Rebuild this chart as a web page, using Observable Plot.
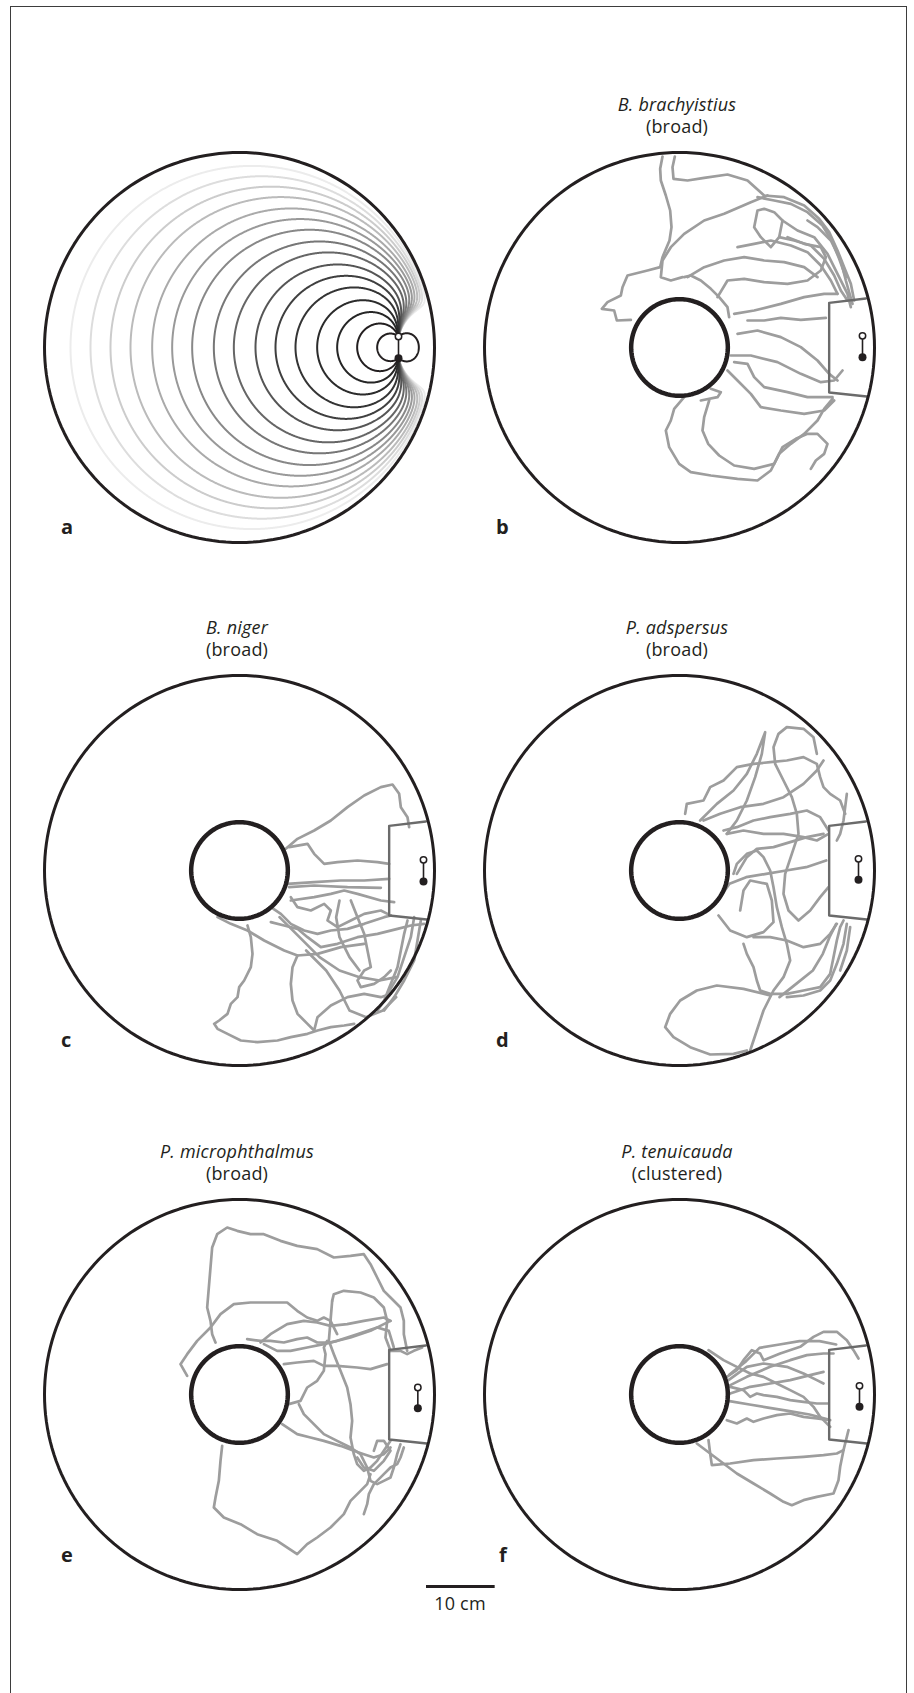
<!DOCTYPE html>
<html><head><meta charset="utf-8">
<script src="https://cdn.jsdelivr.net/npm/d3@7"></script>
<script src="https://cdn.jsdelivr.net/npm/@observablehq/plot@0.6"></script>
<style>
body{margin:0;background:#fff;}
#page{position:relative;width:914px;height:1693px;overflow:hidden;font-family:"Open Sans",sans-serif;color:#231f20;background:#fff;}
#frame{position:absolute;left:10px;top:6px;width:895px;height:1760px;border:1.6px solid #3d3d3d;}
.panel{position:absolute;}
.panel svg{overflow:visible;}
.t{position:absolute;width:300px;text-align:center;font-size:18px;line-height:18px;letter-spacing:0.2px;white-space:nowrap;}
.lt{position:absolute;font-weight:700;font-size:20px;line-height:20px;}
</style></head><body><div id="page"><div id="frame"></div></div>
<script>
// ---- geometry of the arena (units: 1 unit ≈ 0.49 mm, tank centre = 0,0, y downward)
const TANK_R = 585;
const OBJECT_R = 145;
const UNITS_PER_CM = 20.6;
const shelter = [[559,-147],[449,-134],[449,135],[562,147]];
// electrodes [open pole, filled pole] per panel
const electrodesB = [[549,-35],[549,29]];
const electrodesC = [[552,-32],[552,33]];
const electrodesD = [[537,-35],[537,28]];
const electrodesE = [[535,-21],[535,41]];
const electrodesF = [[540,-26],[540,37]];
// panel a : dipole and field lines (axis crossings)
const dipoleA = [[477,-33],[477,32]];
const fieldCrossingsLeft = [413,353,293,233,168,108,48,-17,-77,-142,-202,-262,-327,-387,-447,-507];
const fieldGrays = ["#231f20","#231f20","#262626","#2b2b2b","#343434","#3f3f3f","#555555","#666666","#777777","#888888","#999999","#aaaaaa","#bbbbbb","#cccccc","#dddddd","#ececec"];
const fieldCrossingsRight = [538];

// ---- titles
const species = ["B. brachyistius","B. niger","P. adspersus","P. microphthalmus","P. tenuicauda"];
const patterns = ["(broad)","(broad)","(broad)","(broad)","(clustered)"];
const letters = ["a","b","c","d","e","f"];

// ---- tracks (polylines)
const tracksB = [
 [[-51,-573],[-58,-536],[-56,-501],[-41,-456],[-28,-411],[-24,-361],[-30,-321],[-51,-271],[-58,-241],[-96,-231],[-156,-216],[-171,-181],[-176,-156],[-216,-136],[-233,-116],[-196,-111],[-188,-81],[-146,-83]],
 [[-14,-573],[-21,-541],[-18,-506],[24,-501],[74,-509],[144,-519],[204,-501],[254,-456],[314,-451],[374,-426],[419,-386],[449,-346],[474,-291],[494,-241],[514,-191],[524,-141]],
 [[264,-456],[214,-436],[134,-401],[74,-381],[14,-341],[-26,-301],[-51,-261],[-56,-211],[-26,-201],[9,-211]],
 [[14,-211],[34,-216],[64,-201],[94,-176],[119,-151],[144,-121],[149,-91]],
 [[254,-416],[284,-406],[309,-381],[299,-331],[274,-301],[244,-331],[224,-361],[234,-411],[254,-416]],
 [[309,-381],[354,-351],[404,-331],[444,-281],[474,-221],[504,-161],[514,-121]],
 [[384,-381],[414,-361],[454,-321],[484,-261],[499,-201],[519,-131]],
 [[234,-451],[284,-441],[334,-431],[384,-406],[429,-366],[459,-316],[479,-266],[499,-211]],
 [[299,-331],[344,-321],[394,-306],[434,-266],[464,-216],[484,-171],[504,-141]],
 [[174,-301],[224,-311],[274,-321],[334,-306],[384,-286],[424,-246],[454,-201],[474,-161]],
 [[24,-211],[74,-241],[134,-261],[194,-271],[254,-261],[314,-256],[374,-241],[414,-211]],
 [[114,-151],[144,-201],[194,-206],[254,-196],[324,-191],[384,-201],[424,-231],[439,-271],[424,-301],[374,-311],[324,-331]],
 [[164,-101],[224,-111],[304,-131],[374,-151],[434,-161],[474,-161]],
 [[204,-81],[254,-81],[304,-89],[364,-83],[439,-89]],
 [[174,-41],[234,-51],[304,-31],[364,-1],[414,39],[449,79],[474,99]],
 [[154,24],[214,24],[294,44],[364,79],[424,104],[464,99],[489,69]],
 [[164,44],[204,49],[224,89],[254,119],[324,134],[384,149],[459,149]],
 [[14,149],[-16,184],[-26,219],[-41,249],[-31,299],[-1,349],[34,374],[94,384],[174,394],[234,399],[274,369],[299,319],[334,289],[374,259],[414,219],[434,184],[459,154]],
 [[89,159],[74,209],[69,249],[86,289],[119,324],[164,354],[224,364],[284,349],[309,299],[349,274],[384,259],[414,259],[444,289],[434,319],[409,339],[394,364]],
 [[64,159],[114,149],[124,134],[94,124]],
 [[144,69],[174,99],[214,139],[244,179],[304,189],[374,199],[434,189],[464,159]]
];
const tracksC = [
 [[139,-65],[174,-95],[224,-120],[274,-150],[324,-190],[374,-225],[424,-250],[459,-258],[479,-230],[484,-190],[504,-160],[509,-130]],
 [[149,-70],[204,-80],[224,-50],[254,-20],[294,-25],[354,-30],[414,-25],[449,-20]],
 [[144,40],[224,35],[304,30],[374,30],[449,25]],
 [[149,50],[224,45],[324,50],[424,52]],
 [[154,90],[224,80],[274,70],[314,60],[354,70],[424,90],[464,95]],
 [[154,80],[174,110],[214,120],[254,100],[274,120],[264,150],[294,170],[334,150],[374,130],[424,120],[444,130]],
 [[94,110],[124,130],[154,160],[194,180],[234,190],[274,180],[324,175],[374,160],[434,140],[454,135]],
 [[94,155],[134,165],[174,175],[204,200],[244,230],[294,220],[354,200],[414,190],[474,175],[514,165],[554,160]],
 [[-66,140],[-26,160],[24,180],[74,210],[134,240],[174,255],[234,250],[304,230],[374,220]],
 [[24,165],[34,200],[39,250],[34,290],[14,330],[-1,350],[-6,380],[-26,400],[-36,430],[-61,450],[-76,460],[-66,475],[-36,490],[4,510],[54,515],[114,510],[154,500],[204,490],[234,480],[274,470],[314,465],[344,460]],
 [[174,255],[159,290],[154,340],[159,390],[174,430],[204,460],[224,480],[234,440],[274,405],[324,380],[374,370],[424,380],[454,370]],
 [[504,150],[494,190],[484,240],[474,290],[454,340],[434,390],[414,420]],
 [[524,140],[514,200],[494,260],[474,320],[444,370]],
 [[334,90],[354,140],[374,190],[384,240],[394,290],[374,300],[354,330],[364,350],[404,340],[434,320],[454,300]],
 [[544,150],[534,210],[524,270],[494,330],[464,380],[434,420]],
 [[120,140],[180,200],[240,260],[300,300],[360,320],[420,330],[470,320]],
 [[200,240],[260,300],[300,360],[330,420],[380,440],[430,420],[470,380]],
 [[300,90],[290,140],[300,200],[330,260],[360,300]]
];
const tracksD = [
 [[17,-170],[22,-200],[72,-210],[92,-250],[132,-270],[172,-310],[222,-320],[272,-325],[322,-330],[372,-340],[412,-320],[422,-280],[432,-250],[452,-230],[482,-210],[497,-170]],
 [[62,-150],[112,-200],[162,-240],[202,-290],[232,-350],[257,-415],[247,-350],[227,-280],[202,-210],[172,-150],[142,-110]],
 [[412,-350],[402,-400],[372,-425],[322,-430],[297,-410],[282,-370],[287,-320],[312,-270],[337,-220],[352,-170],[357,-110],[337,-50],[317,10],[312,70],[327,120],[357,150],[392,120],[422,80],[447,50]],
 [[132,-120],[172,-130],[222,-150],[272,-160],[332,-170],[382,-180],[422,-160],[447,-120]],
 [[142,-110],[192,-120],[252,-110],[312,-110],[372,-100],[412,-90],[447,-110]],
 [[172,10],[202,-40],[232,-65],[282,-70],[332,-85],[382,-100],[432,-110]],
 [[72,-150],[122,-170],[182,-190],[252,-200],[312,-220],[372,-260],[412,-300],[432,-330]],
 [[122,80],[150,40],[200,20],[260,10],[320,0],[380,-10],[440,-30]],
 [[117,135],[152,180],[202,200],[252,185],[282,155],[277,90],[262,40],[212,30],[192,60],[182,120]],
 [[162,10],[172,-20],[202,-50],[232,-60],[252,-40],[272,0],[282,50],[292,110],[307,170],[322,220],[332,270],[312,320],[282,360],[252,420],[232,480],[212,540]],
 [[192,220],[202,250],[222,290],[232,330],[242,360],[272,370],[322,370],[372,360],[422,350],[452,310],[462,260],[472,210],[482,170],[492,150]],
 [[222,200],[272,200],[322,210],[372,230],[422,220],[452,190],[472,160]],
 [[300,380],[350,340],[400,300],[430,250],[450,200],[470,160]],
 [[272,375],[192,355],[112,345],[52,360],[2,390],[-28,430],[-43,470],[-18,500],[32,530],[92,552],[162,550],[202,540]],
 [[502,160],[492,220],[472,280],[452,330],[422,360],[372,375],[322,380]],
 [[512,170],[502,240],[482,300]],
 [[502,-230],[497,-190],[492,-150],[482,-110],[472,-90]]
];
const tracksE = [
 [[-72,-156],[-82,-181],[-87,-221],[-97,-261],[-92,-321],[-87,-381],[-82,-441],[-67,-481],[-37,-501],[-7,-491],[33,-481],[73,-481],[123,-461],[173,-446],[233,-436],[283,-411],[333,-416],[373,-421],[393,-391],[413,-351],[433,-311],[453,-291],[483,-261],[493,-221],[493,-181],[503,-131]],
 [[-157,-56],[-177,-91],[-157,-121],[-127,-161],[-87,-201],[-57,-241],[-17,-271],[33,-276],[93,-276],[143,-276],[173,-251],[203,-231],[233,-221],[253,-231],[273,-221],[293,-181]],
 [[278,-281],[283,-301],[313,-311],[363,-306],[403,-291],[433,-261],[443,-221],[438,-171],[453,-131]],
 [[278,-281],[273,-221],[268,-161],[283,-121],[303,-71],[323,-21],[333,29],[338,79],[333,129],[343,179],[353,209],[373,229],[393,219],[413,199],[433,169],[453,139]],
 [[63,-156],[93,-181],[143,-211],[193,-221],[233,-216],[273,-206],[323,-211],[373,-221],[433,-231],[453,-221]],
 [[23,-166],[63,-161],[93,-161],[133,-156],[173,-166],[203,-171],[233,-156],[273,-156],[333,-171],[393,-191],[433,-211],[453,-221]],
 [[73,-151],[113,-131],[153,-131],[203,-141],[253,-151],[293,-161],[353,-181],[413,-201],[448,-191],[463,-141]],
 [[133,-91],[173,-96],[223,-101],[253,-86],[293,-86],[353,-81],[393,-76],[443,-91]],
 [[148,29],[183,19],[203,-21],[233,-41],[253,-71],[258,-121],[253,-141],[263,-161]],
 [[128,89],[173,119],[213,129],[253,139],[303,154],[343,169],[373,179],[403,189],[433,179],[453,159]],
 [[178,29],[193,59],[223,89],[253,119],[293,139],[333,159],[363,179],[383,219],[393,259],[413,269],[433,259],[453,249],[463,219],[473,179],[483,149]],
 [[-52,154],[-57,199],[-62,259],[-72,309],[-77,339],[-47,369],[3,389],[53,419],[113,439],[173,479],[203,449],[233,429],[273,399],[313,359],[333,319],[363,289],[383,269],[393,239]],
 [[373,359],[383,329],[388,299],[403,269],[433,239],[453,219],[473,209],[483,189],[493,159]],
 [[353,189],[373,219],[403,229],[433,199],[453,169],[433,139],[413,139],[403,169]],
 [[453,-131],[483,-131],[503,-121],[523,-131],[548,-141]]
];
const tracksF = [
 [[87,-133],[132,-103],[172,-83],[212,-63],[252,-53],[292,-33],[332,-13],[372,7],[402,37],[422,67],[432,77],[452,97]],
 [[142,-53],[172,-73],[192,-103],[217,-133],[242,-123],[252,-103],[302,-123],[362,-143],[402,-173],[432,-188],[472,-188],[502,-163],[522,-133],[537,-108]],
 [[142,-23],[202,-53],[272,-83],[332,-103],[382,-118],[432,-123],[462,-123]],
 [[147,-43],[202,-83],[252,-93],[322,-83],[372,-63],[412,-43],[432,-33]],
 [[150,-60],[200,-100],[240,-140],[300,-150],[360,-160],[420,-160],[470,-150]],
 [[152,-3],[212,-23],[272,-33],[332,-43],[392,-58],[432,-68]],
 [[152,-23],[192,-13],[212,7],[232,-3],[252,2],[292,7],[332,17],[372,22],[412,27],[447,27]],
 [[150,20],[210,30],[270,40],[330,50],[390,60],[447,75]],
 [[142,77],[172,87],[202,72],[222,82],[252,72],[292,62],[332,57],[372,67],[412,72],[452,77]],
 [[52,147],[92,177],[132,207],[172,237],[222,267],[272,297],[312,322],[337,332],[372,317],[412,307],[462,297],[477,257],[482,217],[492,167],[502,127],[507,107]],
 [[87,137],[92,177],[97,212],[152,207],[222,197],[292,192],[372,187],[432,182],[472,177],[492,167]]
];

// ---- layout (page pixels)
const COLS = [239, 679], ROWS = [347, 870, 1394];
const PW = 440, DOM = 660;

function circle(r) { return d3.range(0, 361, 2).map(a => [r*Math.cos(a*Math.PI/180), r*Math.sin(a*Math.PI/180)]); }
function toRows(tracks) { return tracks.flatMap((t, i) => t.map(([x, y]) => ({x, y, id: i}))); }

function baseMarks() {
  return [
    Plot.line(circle(OBJECT_R), {x: d => d[0], y: d => d[1], stroke: "#231f20", strokeWidth: 4.5}),
    Plot.line(circle(TANK_R), {x: d => d[0], y: d => d[1], stroke: "#231f20", strokeWidth: 3})
  ];
}
function electrodeMarks(el) {
  return [
    Plot.link([el], {x1: d => d[0][0], y1: d => d[0][1], x2: d => d[1][0], y2: d => d[1][1], stroke: "#231f20", strokeWidth: 1.6}),
    Plot.dot([el[0]], {x: d => d[0], y: d => d[1], r: 3.2, fill: "#fff", stroke: "#231f20", strokeWidth: 1.5}),
    Plot.dot([el[1]], {x: d => d[0], y: d => d[1], r: 4, fill: "#231f20"})
  ];
}
function makePlot(marks) {
  return Plot.plot({
    width: PW, height: PW, margin: 0,
    x: {domain: [-DOM, DOM], axis: null},
    y: {domain: [-DOM, DOM], range: [0, PW], axis: null},
    marks
  });
}

// ---- field lines for panel a (insulating circular wall: image charges)
const [src, snk] = dipoleA;
function img(p) { const k = TANK_R*TANK_R/(p[0]*p[0]+p[1]*p[1]); return [p[0]*k, p[1]*k]; }
const charges = [[...src, 1], [...img(src), 1], [...snk, -1], [...img(snk), -1]];
function fieldAt(x, y) {
  let ex = 0, ey = 0;
  for (const [cx, cy, q] of charges) { const dx = x-cx, dy = y-cy, r2 = dx*dx+dy*dy; ex += q*dx/r2; ey += q*dy/r2; }
  return [ex, ey];
}
function trace(x0, y0, dir, target) {
  const pts = []; let x = x0, y = y0; const h = 1.5;
  for (let i = 0; i < 8000; i++) {
    let [ex, ey] = fieldAt(x, y); let n = Math.hypot(ex, ey) || 1;
    const mx = x + dir*h/2*ex/n, my = y + dir*h/2*ey/n;
    [ex, ey] = fieldAt(mx, my); n = Math.hypot(ex, ey) || 1;
    x += dir*h*ex/n; y += dir*h*ey/n;
    pts.push([x, y]);
    if (Math.hypot(x-target[0], y-target[1]) < 3) { pts.push(target); break; }
  }
  return pts;
}
const yMid = (src[1]+snk[1])/2;
function fieldLine(x0) {
  const back = trace(x0, yMid, -1, src).reverse();
  const fwd = trace(x0, yMid, 1, snk);
  return [...back, [x0, yMid], ...fwd].filter(([x, y]) => Math.hypot(x, y) < TANK_R);
}
const fieldRows = [];
fieldCrossingsLeft.forEach((x0, i) => fieldLine(x0).forEach(([x, y]) => fieldRows.push({x, y, id: i, c: fieldGrays[i]})));
fieldCrossingsRight.forEach((x0, i) => fieldLine(x0).forEach(([x, y]) => fieldRows.push({x, y, id: 100+i, c: "#231f20"})));

const panelA = makePlot([
  Plot.line(fieldRows.slice().reverse(), {x: "x", y: "y", z: "id", stroke: "c", strokeWidth: 2, curve: "linear"}),
  Plot.line(circle(TANK_R), {x: d => d[0], y: d => d[1], stroke: "#231f20", strokeWidth: 3}),
  ...electrodeMarks(dipoleA)
]);

function trackPanel(tracks, el) {
  return makePlot([
    Plot.line(toRows(tracks), {x: "x", y: "y", z: "id", stroke: "#9d9d9d", strokeWidth: 2.7, strokeLinejoin: "round", strokeLinecap: "round"}),
    Plot.line(shelter, {x: d => d[0], y: d => d[1], stroke: "#6b6b6b", strokeWidth: 2.4}),
    ...baseMarks(),
    ...electrodeMarks(el)
  ]);
}
const plots = [
  panelA,
  trackPanel(tracksB, electrodesB),
  trackPanel(tracksC, electrodesC),
  trackPanel(tracksD, electrodesD),
  trackPanel(tracksE, electrodesE),
  trackPanel(tracksF, electrodesF)
];

const page = document.getElementById("page");
function place(el, left, top) { el.style.left = left + "px"; el.style.top = top + "px"; page.appendChild(el); }
plots.forEach((p, i) => {
  const cx = COLS[i % 2], cy = ROWS[Math.floor(i / 2)];
  const d = document.createElement("div"); d.className = "panel"; d.appendChild(p);
  place(d, cx - PW/2, cy - PW/2);
  if (i > 0) {
    const t1 = document.createElement("div"); t1.className = "t"; t1.innerHTML = "<i>" + species[i-1] + "</i>";
    place(t1, cx - 152, cy - 236 - 16);
    const t2 = document.createElement("div"); t2.className = "t"; t2.textContent = patterns[i-1];
    place(t2, cx - 152, cy - 214 - 16);
  }
});
const letterPos = [[61,535],[496,535],[61,1047.5],[496,1047.5],[61,1563],[499,1563]];
letters.forEach((l, i) => {
  const d = document.createElement("div"); d.className = "lt"; d.textContent = l;
  place(d, letterPos[i][0], letterPos[i][1] - 17.8);
});

// scale bar: 10 cm at the panels' scale
const scaleBar = Plot.plot({
  width: 100, height: 10, margin: 0,
  x: {domain: [0, 300], axis: null},
  y: {domain: [0, 1], axis: null},
  marks: [Plot.ruleY([0.5], {x1: 0, x2: 10 * UNITS_PER_CM, stroke: "#231f20", strokeWidth: 3.2})]
});
const sb = document.createElement("div"); sb.className = "panel"; sb.appendChild(scaleBar);
place(sb, 425.7, 1580.7);
const lab = document.createElement("div"); lab.className = "t"; lab.textContent = "10 cm";
place(lab, 460 - 150, 1610 - 16);
</script></body></html>
